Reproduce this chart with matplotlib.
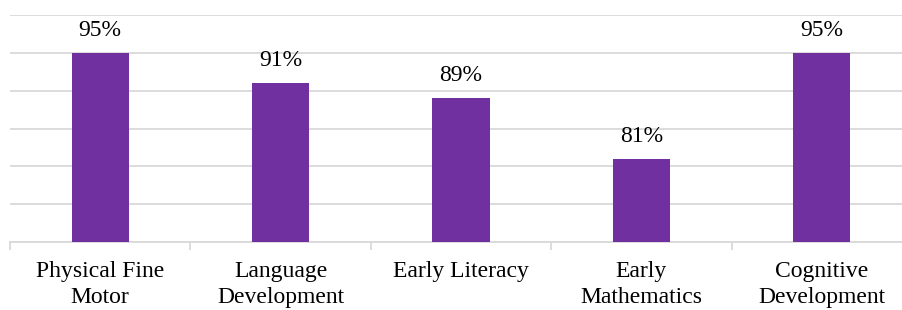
import numpy as np
import matplotlib
matplotlib.use('Agg')
import matplotlib.pyplot as plt

# Data
categories = ['Physical Fine\nMotor', 'Language\nDevelopment', 'Early Literacy',
              'Early\nMathematics', 'Cognitive\nDevelopment']
values = [95, 91, 89, 81, 95]

plt.rcParams['font.family'] = ['Liberation Serif', 'DejaVu Serif']

fig = plt.figure(figsize=(9.02, 3.10), dpi=100)
# axes runs past the right edge, like the cropped original
ax = fig.add_axes([10 / 902, 68 / 310, 902 / 902, 227 / 310])

x = np.arange(len(categories))
bars = ax.bar(x, values, width=0.317, color='#7030A0', zorder=3)

# Value labels
for bar, v in zip(bars, values):
    ax.text(bar.get_x() + bar.get_width() / 2, v + 1.6, f'{v}%',
            ha='center', va='bottom', fontsize=17)

ax.set_xlim(-0.5, len(categories) - 0.5)
ax.set_ylim(70, 100)
ax.set_yticks(np.arange(70, 101, 5))
ax.yaxis.grid(True, color='#D9D9D9', linewidth=1.3, zorder=0)
ax.tick_params(axis='y', left=False, labelleft=False)

# category boundaries get the tick marks, labels sit in between
ax.set_xticks(np.arange(-0.5, len(categories), 1.0))
ax.set_xticklabels([])
ax.set_xticks(x, minor=True)
ax.set_xticklabels(categories, minor=True, fontsize=17, linespacing=1.3)
ax.tick_params(axis='x', which='major', length=6, color='#D9D9D9', width=1.3)
ax.tick_params(axis='x', which='minor', length=0, pad=14)

for side in ['top', 'right', 'left']:
    ax.spines[side].set_visible(False)
ax.spines['bottom'].set_color('#D9D9D9')
ax.spines['bottom'].set_linewidth(1.3)

fig.savefig('out.png', dpi=100)
